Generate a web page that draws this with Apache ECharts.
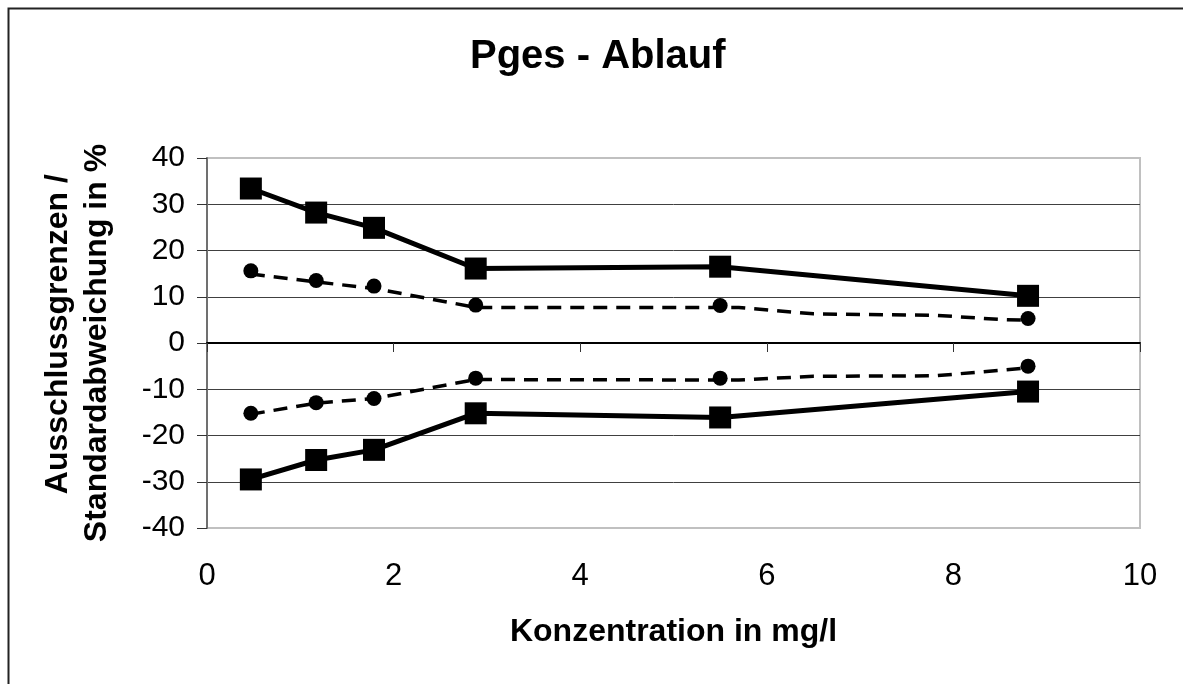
<!DOCTYPE html>
<html>
<head>
<meta charset="utf-8">
<script src="https://cdn.jsdelivr.net/npm/echarts@6/dist/echarts.min.js"></script>
<style>
html,body{margin:0;padding:0;background:#fff;}
#chart{width:1183px;height:684px;}
</style>
</head>
<body>
<div id="chart"></div>
<script>
// Data
var titleText = 'Pges - Ablauf';
var xTitle = 'Konzentration in mg/l';
var yTitle = '  Ausschlussgrenzen /\nStandardabweichung in %';

var conc = [0.47, 1.17, 1.79, 2.88, 5.5, 8.8];
var upperLimit = [33.4, 28.2, 24.9, 16.1, 16.5, 10.2];
var lowerLimit = [-29.5, -25.3, -23.1, -15.2, -16.1, -10.5];
var stdUpper = [15.6, 13.5, 12.3, 8.2, 8.1, 5.3];
var stdLower = [-15.2, -12.9, -12.0, -7.6, -7.6, -5.0];

var curveX = [0.47, 1.17, 1.79, 2.88, 5.5, 5.7, 6.5, 7.8, 8.5, 8.8];
var curveUpper = [14.9, 13.2, 11.8, 7.7, 7.7, 7.7, 6.3, 6.0, 5.1, 4.9];
var curveLower = [-15.4, -13.0, -12.0, -7.9, -8.0, -8.0, -7.2, -7.1, -5.9, -5.4];

function pairs(xs, ys) { return xs.map(function (x, i) { return [x, ys[i]]; }); }

var FONT = '"Liberation Sans", Arial, sans-serif';
var chart = echarts.init(document.getElementById('chart'), null, {renderer: 'canvas'});

var gridColors = ['#c0c0c0', '#404040', '#404040', '#404040', '#404040', '#404040', '#404040', '#404040', '#c0c0c0'];

chart.setOption({
  backgroundColor: '#ffffff',
  animation: false,
  textStyle: {fontFamily: FONT},
  title: {
    text: titleText,
    left: 470, top: 37, padding: 0,
    textStyle: {fontFamily: FONT, fontSize: 40, fontWeight: 'bold', color: '#000'}
  },
  graphic: [{
    type: 'rect', z: -1, silent: true,
    shape: {x: 8.5, y: 8.5, width: 1300, height: 800},
    style: {fill: null, stroke: '#222', lineWidth: 2}
  }],
  grid: {
    left: 207, top: 158, right: 43, bottom: 156,
    show: true, borderColor: '#c0c0c0', borderWidth: 2, backgroundColor: 'transparent'
  },
  xAxis: [{
    type: 'value', min: 0, max: 10, interval: 2, position: 'bottom',
    name: xTitle, nameLocation: 'middle', nameGap: 88,
    nameTextStyle: {fontFamily: FONT, fontSize: 32, fontWeight: 'bold', color: '#000'},
    axisLine: {show: false, onZero: false},
    axisTick: {show: false},
    splitLine: {show: false},
    axisLabel: {fontFamily: FONT, fontSize: 31, color: '#000', margin: 33}
  }, {
    type: 'value', min: 0, max: 10, interval: 2, position: 'bottom',
    axisLine: {show: true, onZero: true, lineStyle: {color: '#000', width: 2}},
    axisTick: {show: true, length: 9, lineStyle: {color: '#333', width: 1}},
    axisLabel: {show: false},
    splitLine: {show: false}
  }],
  yAxis: {
    type: 'value', min: -40, max: 40, interval: 10,
    name: yTitle, nameLocation: 'middle', nameRotate: 90, nameGap: 90,
    nameTextStyle: {fontFamily: FONT, fontSize: 32, fontWeight: 'bold', color: '#000', lineHeight: 39},
    axisLine: {show: true, lineStyle: {color: '#707070', width: 2}},
    axisTick: {show: true, length: 10, lineStyle: {color: '#333', width: 1}},
    axisLabel: {fontFamily: FONT, fontSize: 30, color: '#000', margin: 22},
    splitLine: {show: true, lineStyle: {color: gridColors, width: 1}}
  },
  series: [
    {name: 'obere Ausschlussgrenze', type: 'line', xAxisIndex: 0, data: pairs(conc, upperLimit),
     symbol: 'rect', symbolSize: 22, lineStyle: {color: '#000', width: 5}, itemStyle: {color: '#000', opacity: 1}, z: 5},
    {name: 'untere Ausschlussgrenze', type: 'line', xAxisIndex: 0, data: pairs(conc, lowerLimit),
     symbol: 'rect', symbolSize: 22, lineStyle: {color: '#000', width: 5}, itemStyle: {color: '#000', opacity: 1}, z: 5},
    {name: 'Standardabweichung +', type: 'line', xAxisIndex: 0, data: pairs(curveX, curveUpper),
     showSymbol: false, symbol: 'none', lineStyle: {color: '#000', width: 3.5, type: [14, 9]}, z: 3},
    {name: 'Standardabweichung -', type: 'line', xAxisIndex: 0, data: pairs(curveX, curveLower),
     showSymbol: false, symbol: 'none', lineStyle: {color: '#000', width: 3.5, type: [14, 9]}, z: 3},
    {name: 'Std +', type: 'scatter', xAxisIndex: 0, data: pairs(conc, stdUpper),
     symbol: 'circle', symbolSize: 15, itemStyle: {color: '#000', opacity: 1}, z: 4},
    {name: 'Std -', type: 'scatter', xAxisIndex: 0, data: pairs(conc, stdLower),
     symbol: 'circle', symbolSize: 15, itemStyle: {color: '#000', opacity: 1}, z: 4}
  ]
});
</script>
</body>
</html>
